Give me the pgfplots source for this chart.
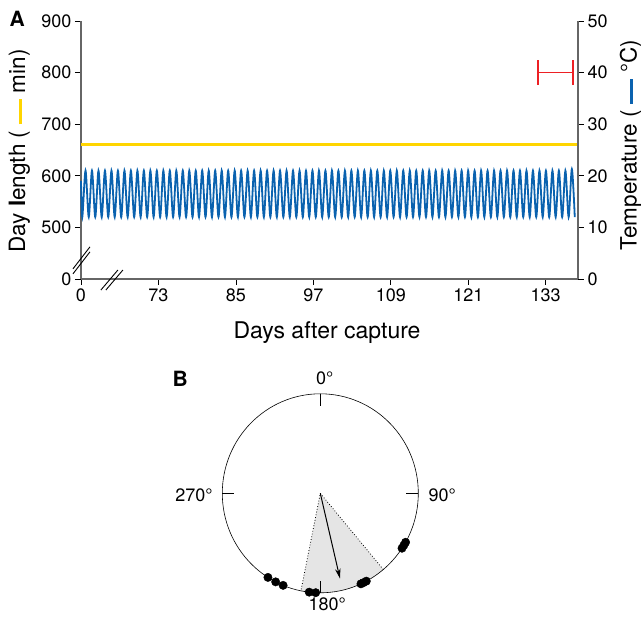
\documentclass[border=0pt]{standalone}
\usepackage{pgfplots}
\usepackage{pgfplotstable}
\pgfplotsset{compat=1.18}
\usepackage{fontspec}
\setmainfont{TeX Gyre Heros}
\usetikzlibrary{arrows.meta}

\definecolor{tblue}{RGB}{10,98,175}
\definecolor{dyellow}{RGB}{255,213,0}
\definecolor{ered}{RGB}{237,32,36}

% bearings (deg, clockwise from north) of the capture events, radius 1
\pgfplotstableread{
a    r
119.5 1
121.5 1
123.5 1
152  1
154  1
155.5 1
182.7 1
186.5 1
202.3 1
207.1 1
212.3 1
}\events

\begin{document}
\begin{tikzpicture}
\useasboundingbox (0,0) rectangle (641pt,-617pt);

\pgfplotsset{
  panelA/.style={
    at={(81pt,-279pt)}, anchor=south west,
    scale only axis, width=497pt, height=258pt,
    xmin=61, xmax=138,
    tick align=outside, major tick length=6pt,
    axis line style={black!60, line width=1.2pt},
    tick style={black, line width=0.8pt},
    ticklabel style={font=\fontsize{18}{18}\selectfont},
    /pgf/number format/assume math mode=true,
    clip=false,
  },
}

% day length (left axis, broken between 0 and 500)
\begin{axis}[panelA,
  ymin=400, ymax=900,
  axis x line*=bottom, axis y line*=left,
  xtick={61,73,85,97,109,121,133},
  xticklabels={0,73,85,97,109,121,133},
  ytick={400,500,600,700,800,900},
  yticklabels={0,500,600,700,800,900},
]
\addplot[dyellow, line width=3pt] coordinates {(61,660) (138,660)};
% break marks
\draw[line width=0.9pt] ([shift={(-8pt,-12pt)}]axis cs:61,443) -- ++(17pt,22pt);
\draw[line width=0.9pt] ([shift={(-8pt,-17pt)}]axis cs:61,443) -- ++(17pt,22pt);
\draw[line width=0.9pt] ([shift={(-8pt,-11pt)}]axis cs:66.1,400) -- ++(17pt,20pt);
\draw[line width=0.9pt] ([shift={(-13pt,-11pt)}]axis cs:66.1,400) -- ++(17pt,20pt);
\end{axis}

% temperature (right axis)
\begin{axis}[panelA,
  ymin=0, ymax=50,
  axis x line=none, axis y line*=right,
  ytick={0,10,20,30,40,50},
]
\addplot[tblue, line width=1.8pt, smooth] coordinates {
(61.00,19)
(61.20,12) (61.70,21) (62.20,12) (62.70,21) (63.21,12) (63.71,21)
(64.21,12) (64.71,21) (65.22,12) (65.72,21) (66.22,12) (66.72,21)
(67.23,12) (67.73,21) (68.23,12) (68.73,21) (69.24,12) (69.74,21)
(70.24,12) (70.74,21) (71.25,12) (71.75,21) (72.25,12) (72.75,21)
(73.26,12) (73.76,21) (74.26,12) (74.76,21) (75.27,12) (75.77,21)
(76.27,12) (76.77,21) (77.28,12) (77.78,21) (78.28,12) (78.78,21)
(79.28,12) (79.78,21) (80.29,12) (80.79,21) (81.29,12) (81.79,21)
(82.30,12) (82.80,21) (83.30,12) (83.80,21) (84.31,12) (84.81,21)
(85.31,12) (85.81,21) (86.32,12) (86.82,21) (87.32,12) (87.82,21)
(88.33,12) (88.83,21) (89.33,12) (89.83,21) (90.34,12) (90.84,21)
(91.34,12) (91.84,21) (92.35,12) (92.85,21) (93.35,12) (93.85,21)
(94.36,12) (94.86,21) (95.36,12) (95.86,21) (96.36,12) (96.86,21)
(97.37,12) (97.87,21) (98.37,12) (98.87,21) (99.38,12) (99.88,21)
(100.38,12) (100.88,21) (101.39,12) (101.89,21) (102.39,12) (102.89,21)
(103.40,12) (103.90,21) (104.40,12) (104.90,21) (105.41,12) (105.91,21)
(106.41,12) (106.91,21) (107.42,12) (107.92,21) (108.42,12) (108.92,21)
(109.43,12) (109.93,21) (110.43,12) (110.93,21) (111.44,12) (111.94,21)
(112.44,12) (112.94,21) (113.44,12) (113.94,21) (114.45,12) (114.95,21)
(115.45,12) (115.95,21) (116.46,12) (116.96,21) (117.46,12) (117.96,21)
(118.47,12) (118.97,21) (119.47,12) (119.97,21) (120.48,12) (120.98,21)
(121.48,12) (121.98,21) (122.49,12) (122.99,21) (123.49,12) (123.99,21)
(124.50,12) (125.00,21) (125.50,12) (126.00,21) (126.51,12) (127.01,21)
(127.51,12) (128.01,21) (128.51,12) (129.01,21) (129.52,12) (130.02,21)
(130.52,12) (131.02,21) (131.53,12) (132.03,21) (132.53,12) (133.03,21)
(133.54,12) (134.04,21) (134.54,12) (135.04,21) (135.55,12) (136.05,21)
(136.55,12) (137.05,21.3) (137.50,12)
};
\addplot[ered, line width=1.5pt, mark=|, mark size=12.5pt] coordinates {(131.8,40) (137.2,40)};
\end{axis}

% axis titles of panel A
\node[rotate=90, anchor=base, font=\fontsize{22.5}{22.5}\selectfont] at (25pt,-151pt)
  {Day \textbf{l}ength ( \textcolor{dyellow}{\rule[3pt]{25pt}{3.5pt}} min)};
\node[rotate=90, anchor=base, font=\fontsize{22.5}{22.5}\selectfont] at (636.5pt,-145pt)
  {Temperature ( \textcolor{tblue}{\rule[3.5pt]{25pt}{3.5pt}} °C)};
\node[anchor=base, font=\fontsize{23}{23}\selectfont] at (327pt,-339pt) {Days after capture};

% panel letters
\node[anchor=base west, inner sep=0pt, font=\fontsize{21}{21}\selectfont\bfseries] at (9.5pt,-26.7pt) {A};
\node[anchor=base west, inner sep=0pt, font=\fontsize{21}{21}\selectfont\bfseries] at (172.5pt,-386.7pt) {B};

% panel B: circular plot
\begin{axis}[
  at={(320.3pt,-493.3pt)}, anchor=center,
  scale only axis, width=196pt, height=199pt,
  xmin=-1, xmax=1, ymin=-1, ymax=1,
  hide axis, clip=false,
]
\addplot[fill=black!10, draw=none] table[x expr=\thisrow{r}*sin(\thisrow{a}), y expr=\thisrow{r}*cos(\thisrow{a})] {
a r
0 0
140 1
146 1
152 1
158 1
164 1
170 1
176 1
182 1
188 1
191.4 1
};
\addplot[dotted, line width=0.8pt] table[x expr=\thisrow{r}*sin(\thisrow{a}), y expr=\thisrow{r}*cos(\thisrow{a})] {
a r
140 1
0 0
191.4 1
};
\draw[line width=0.6pt] (axis cs:0,0) ellipse[x radius=98pt, y radius=99.5pt];
\draw[line width=0.8pt] (axis cs:0,1) -- (axis cs:0,0.877);
\draw[line width=0.8pt] (axis cs:1,0) -- (axis cs:0.877,0);
\draw[line width=0.8pt] (axis cs:0,-1) -- (axis cs:0,-0.877);
\draw[line width=0.8pt] (axis cs:-1,0) -- (axis cs:-0.877,0);
\addplot[black, line width=1pt, -{Stealth[length=10pt, width=5.5pt]}] table[x expr=\thisrow{r}*sin(\thisrow{a}), y expr=\thisrow{r}*cos(\thisrow{a})] {
a r
0 0
166.8 0.88
};
\addplot[only marks, mark=*, mark size=4.2pt, black] table[x expr=\thisrow{r}*sin(\thisrow{a}), y expr=\thisrow{r}*cos(\thisrow{a})] {\events};
\end{axis}

% direction labels
\begin{scope}[every node/.style={inner sep=0pt, font=\fontsize{18}{18}\selectfont}]
\node[anchor=base west] at (316pt,-385pt) {0°};
\node[anchor=base west] at (428.3pt,-501.7pt) {90°};
\node[anchor=base west] at (308.3pt,-611pt) {180°};
\node[anchor=base east] at (212.7pt,-501.7pt) {270°};
\end{scope}
\end{tikzpicture}
\end{document}
